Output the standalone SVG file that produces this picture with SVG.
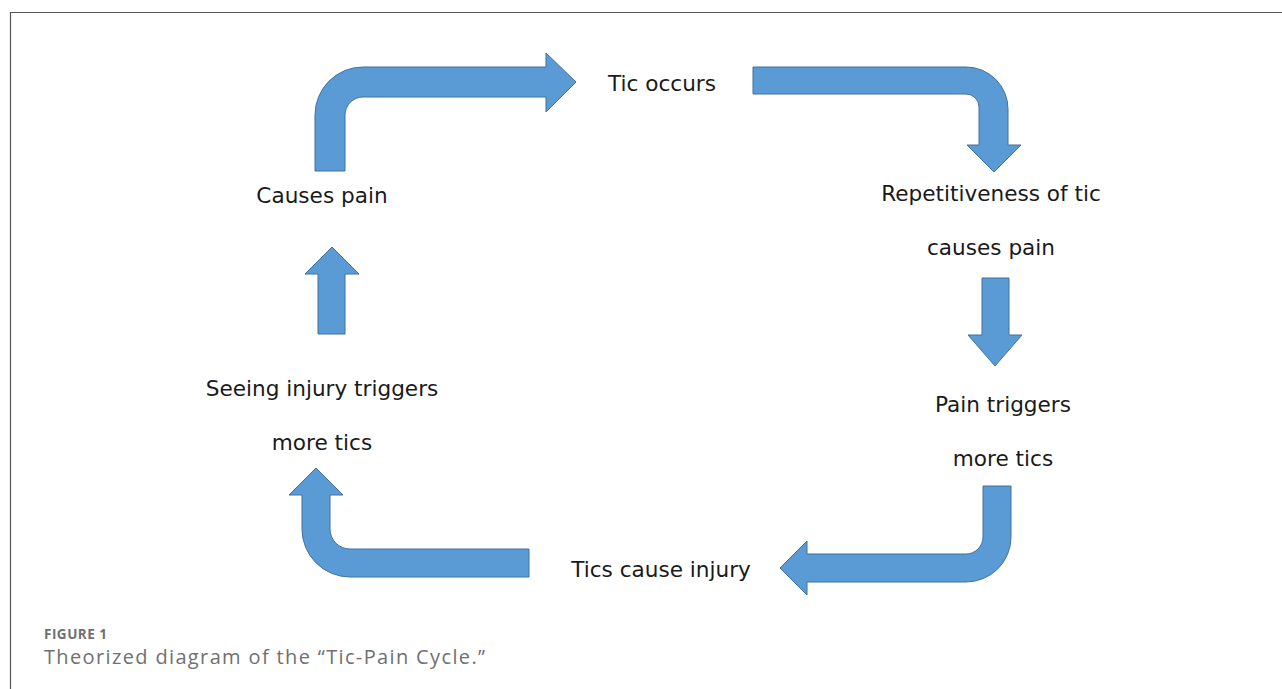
<svg xmlns="http://www.w3.org/2000/svg" width="1282" height="689" viewBox="0 0 1282 689">
<style>
.arr{fill:#5b9bd5;stroke:#41719c;stroke-width:1}
.lbl{font-family:"DejaVu Sans",Verdana,sans-serif;font-size:21.6px;fill:#1a1a1a;text-anchor:middle}
.cap{font-family:"Open Sans","Liberation Sans",sans-serif;fill:#707070}
</style>
<rect width="1282" height="689" fill="#ffffff"/>
<path d="M10.5,689 L10.5,12.5 L1282,12.5" fill="none" stroke="#555555" stroke-width="1.2"/>
<g id="connectors">
<path class="arr" d="M315,171 L315,115 A48,48 0 0 1 363,67 L546,67 L546,53 L576,82 L546,112 L546,97 L363,97 A18,18 0 0 0 345,115 L345,171 Z"/>
<path class="arr" d="M753,67 L966,67 A42,42 0 0 1 1008,109 L1008,145 L1021,145 L994,172 L967,145 L979,145 L979,107 A13,13 0 0 0 966,94 L753,94 Z"/>
<path class="arr" d="M982,278 L1009,278 L1009,335 L1022,335 L995,366 L968,335 L982,335 Z"/>
<path class="arr" d="M983,486 L1011,486 L1011,537 A45,45 0 0 1 966,582 L807,582 L807,595 L780,568 L807,541 L807,554 L966,554 A17,17 0 0 0 983,537 Z"/>
<path class="arr" d="M529,549 L350,549 A20,20 0 0 1 330,529 L330,495 L343,495 L316,468 L289,495 L302,495 L302,529 A48,48 0 0 0 350,577 L529,577 Z"/>
<path class="arr" d="M318,334 L318,274 L305,274 L332,247 L359,274 L345,274 L345,334 Z"/>
</g>
<g id="tic-occurs"><text class="lbl" x="662" y="91">Tic occurs</text></g>
<g id="repetitiveness"><text class="lbl" x="991" y="201">Repetitiveness of tic</text><text class="lbl" x="991" y="255">causes pain</text></g>
<g id="pain-triggers"><text class="lbl" x="1003" y="412">Pain triggers</text><text class="lbl" x="1003" y="466">more tics</text></g>
<g id="tics-cause-injury"><text class="lbl" x="661" y="577">Tics cause injury</text></g>
<g id="seeing-injury"><text class="lbl" x="322" y="396">Seeing injury triggers</text><text class="lbl" x="322" y="450">more tics</text></g>
<g id="causes-pain"><text class="lbl" x="322" y="203">Causes pain</text></g>
<g id="caption">
<text class="cap" x="44" y="639" font-size="13.5" font-weight="bold" textLength="63" lengthAdjust="spacing">FIGURE 1</text>
<text class="cap" x="44" y="664" font-size="20" textLength="441" lengthAdjust="spacing">Theorized diagram of the “Tic-Pain Cycle.”</text>
</g>
</svg>
